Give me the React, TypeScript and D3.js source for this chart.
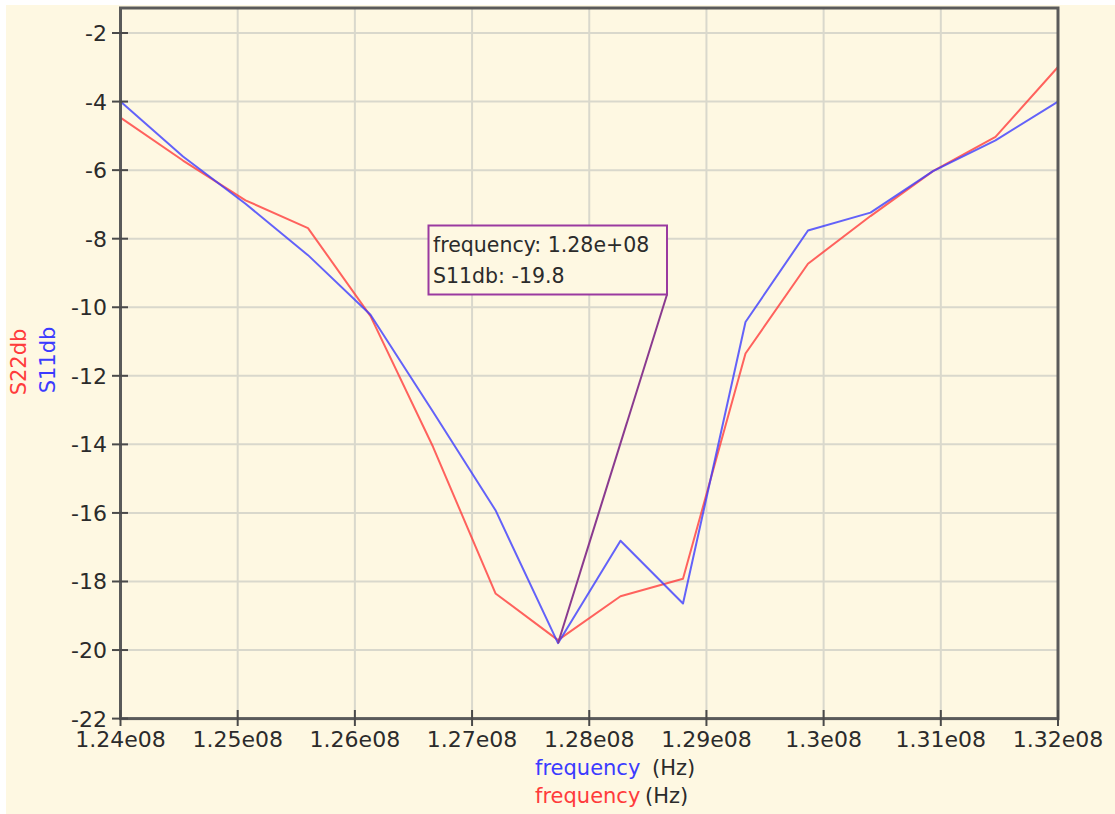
import React from "react";
import * as d3 from "d3";

const frequencies = [
  124000000, 124533333, 125066667, 125600000, 126133333, 126666667, 127200000, 127733333,
  128266667, 128800000, 129333333, 129866667, 130400000, 130933333, 131466667, 132000000,
];
const s11db = [-4.0, -5.6, -6.98, -8.48, -10.22, -13.05, -15.92, -19.8, -16.81, -18.64, -10.43, -7.76, -7.24, -6.03, -5.13, -4.0];
const s22db = [-4.47, -5.72, -6.88, -7.69, -10.26, -14.07, -18.35, -19.71, -18.43, -17.92, -11.35, -8.73, -7.34, -6.03, -5.03, -2.99];
const yTicks = [-2, -4, -6, -8, -10, -12, -14, -16, -18, -20, -22];
const xTicks = [124000000, 125000000, 126000000, 127000000, 128000000, 129000000, 130000000, 131000000, 132000000];
const xTickLabels = ["1.24e08", "1.25e08", "1.26e08", "1.27e08", "1.28e08", "1.29e08", "1.3e08", "1.31e08", "1.32e08"];
const markerIndex = 7;
const tooltipLines = ["frequency: 1.28e+08", "S11db: -19.8"];

const W = 1115;
const H = 814;
const L = 120.5, R = 1058, T = 8, B = 718.6;
const FONT = "'DejaVu Sans', Verdana, sans-serif";
const BLUE = "rgba(60,60,255,0.8)";
const RED = "rgba(255,60,60,0.8)";
const TXT = "#2b2b2b";

export default function App() {
  const x = d3.scaleLinear().domain([124000000, 132000000]).range([L, R]);
  const y = d3.scaleLinear().domain([-22, -1.27]).range([B, T]);
  const line = d3
    .line<number>()
    .x((_, i) => x(frequencies[i]))
    .y((d) => y(d));

  const mx = x(frequencies[markerIndex]);
  const my = y(s11db[markerIndex]);
  const box = { x: 428.5, y: 225.5, w: 238.5, h: 69 };

  return (
    <svg
      width={W}
      height={H}
      style={{ position: "absolute", left: 0, top: 0, display: "block" }}
      fontFamily={FONT}
    >
      <rect x={0} y={0} width={W} height={H} fill="#ffffff" />
      <rect x={6} y={5} width={W - 6} height={H - 5} fill="#fef8e2" />

      {/* grid */}
      {yTicks.map((t) => (
        <line key={"gy" + t} x1={L} x2={R} y1={y(t)} y2={y(t)} stroke="#d9d8cc" strokeWidth={2} />
      ))}
      {xTicks.map((t) => (
        <line key={"gx" + t} x1={x(t)} x2={x(t)} y1={T} y2={B} stroke="#d9d8cc" strokeWidth={2} />
      ))}

      {/* series */}
      <path d={line(s22db) || ""} fill="none" stroke={RED} strokeWidth={2} strokeLinejoin="round" />
      <path d={line(s11db) || ""} fill="none" stroke={BLUE} strokeWidth={2} strokeLinejoin="round" />

      {/* frame */}
      <rect x={L} y={T} width={R - L} height={B - T} fill="none" stroke="#5a5a5a" strokeWidth={3} />

      {/* y ticks */}
      {yTicks.map((t) => (
        <g key={"ty" + t}>
          <line x1={112} x2={128} y1={y(t)} y2={y(t)} stroke="#4a4a4a" strokeWidth={2} />
          <text x={107} y={y(t)} dy="0.36em" textAnchor="end" fontSize={22} fill={TXT}>
            {t}
          </text>
        </g>
      ))}
      {/* x ticks */}
      {xTicks.map((t, i) => (
        <g key={"tx" + t}>
          <line x1={x(t)} x2={x(t)} y1={710} y2={726} stroke="#4a4a4a" strokeWidth={2} />
          <text x={x(t)} y={747} textAnchor="middle" fontSize={22} fill={TXT}>
            {xTickLabels[i]}
          </text>
        </g>
      ))}

      {/* y axis titles */}
      <text transform="translate(26,362) rotate(-90)" textAnchor="middle" fontSize={21} fill="#ff3b3b">
        S22db
      </text>
      <text transform="translate(55,360) rotate(-90)" textAnchor="middle" fontSize={21} fill="#3b3bff">
        S11db
      </text>

      {/* x axis titles */}
      <text x={535} y={775} fontSize={21}>
        <tspan fill="#3b3bff">frequency</tspan>
        <tspan fill={TXT} x={652}>(Hz)</tspan>
      </text>
      <text x={535} y={803} fontSize={21}>
        <tspan fill="#ff3b3b">frequency</tspan>
        <tspan fill={TXT} x={645}>(Hz)</tspan>
      </text>

      {/* tooltip */}
      <line x1={box.x + box.w} y1={box.y + box.h} x2={mx} y2={my} stroke="#8a3a8f" strokeWidth={2} />
      <rect x={box.x} y={box.y} width={box.w} height={box.h} fill="#fef8e2" stroke="#9a3aa0" strokeWidth={2} />
      {tooltipLines.map((s, i) => (
        <text key={s} x={433} y={252 + i * 31} fontSize={20.5} fill={TXT}>
          {s}
        </text>
      ))}
    </svg>
  );
}
